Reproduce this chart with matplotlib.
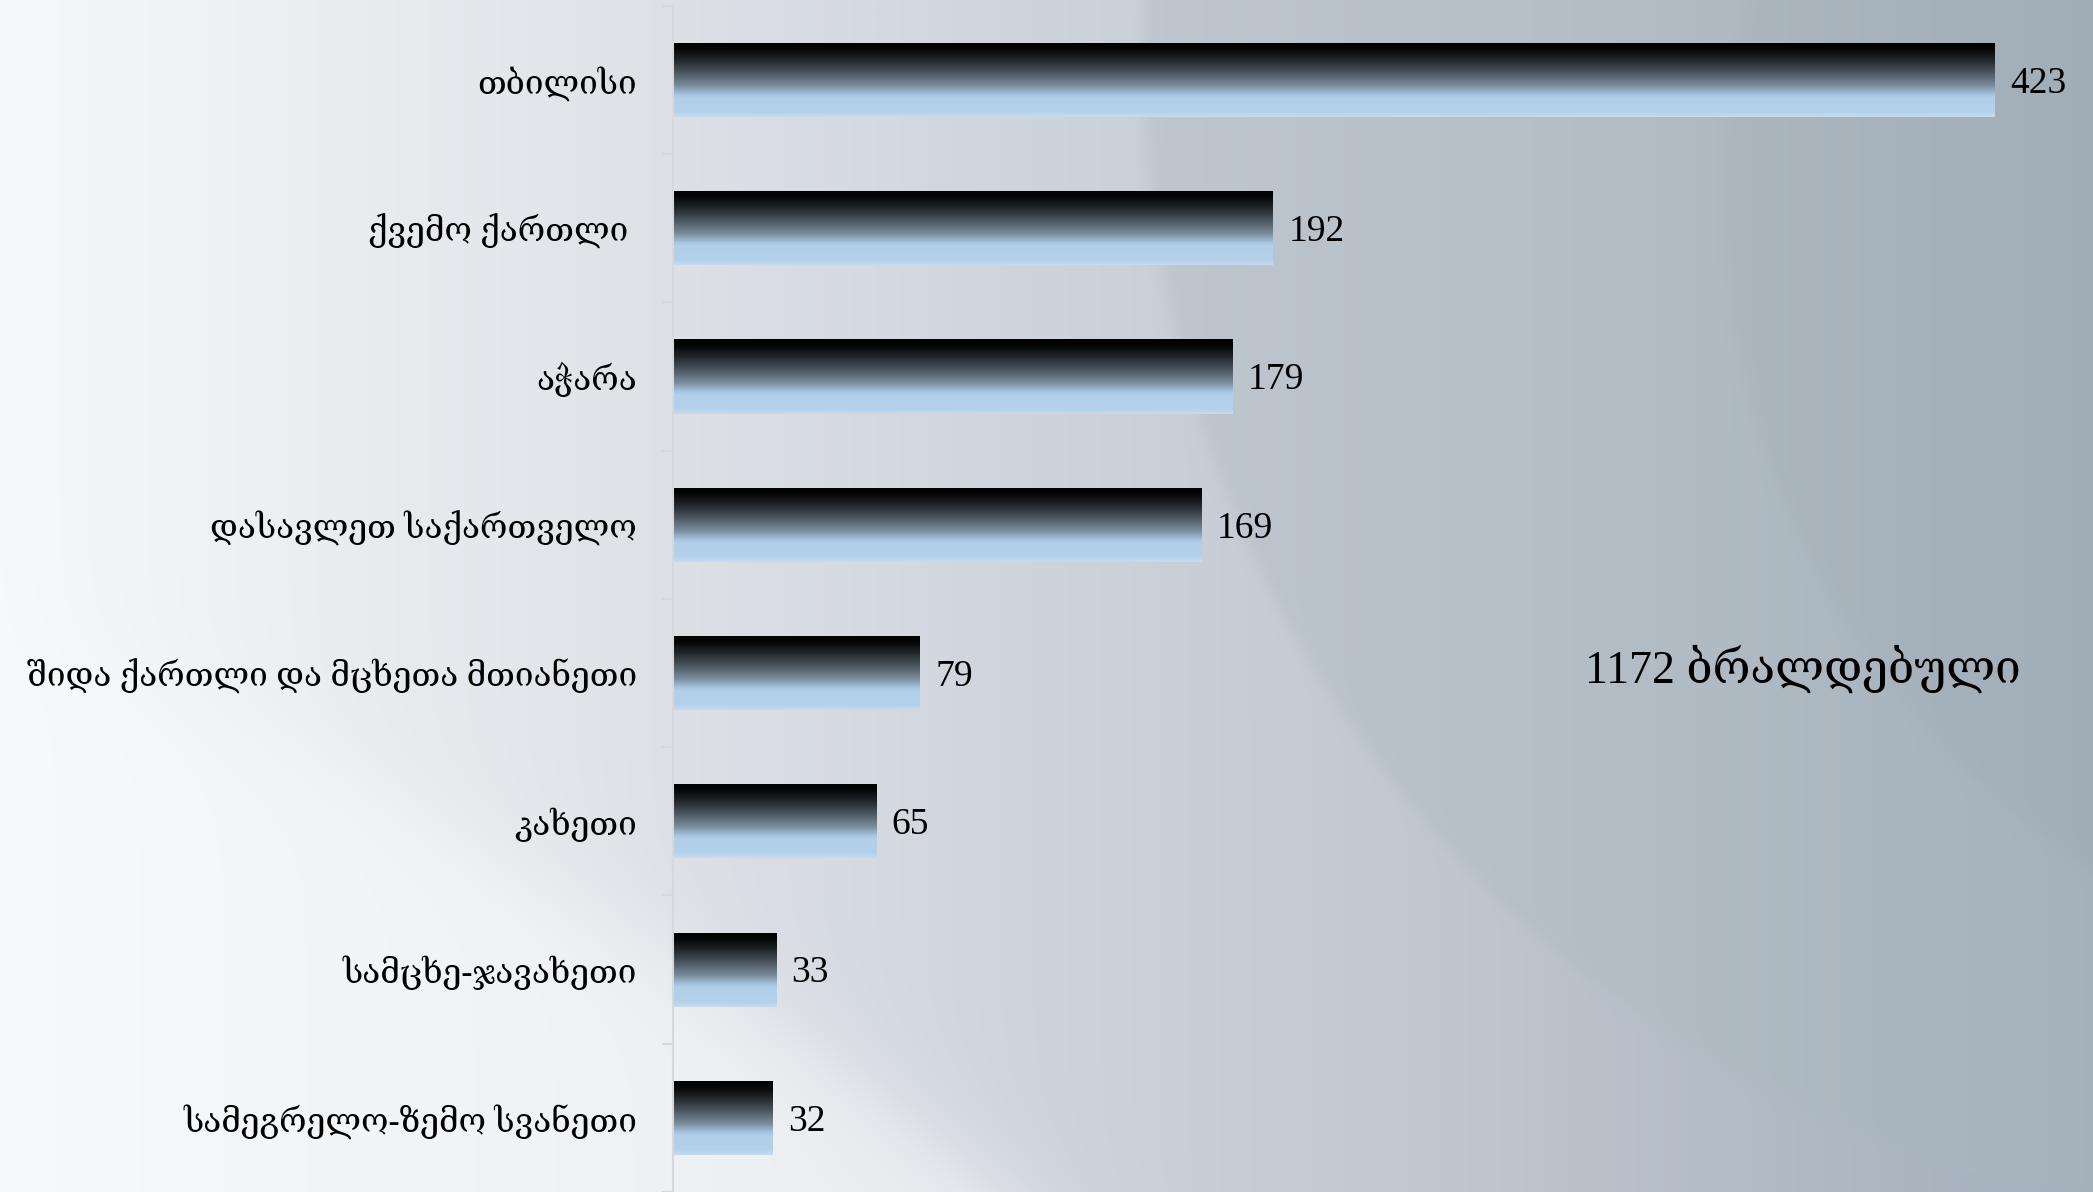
import numpy as np
import matplotlib
matplotlib.use('Agg')
import matplotlib.pyplot as plt
from matplotlib.colors import LinearSegmentedColormap

# ---------------- data ----------------
regions = ["თბილისი", "ქვემო ქართლი ", "აჭარა", "დასავლეთ საქართველო",
           "შიდა ქართლი და მცხეთა მთიანეთი", "კახეთი", "სამცხე-ჯავახეთი",
           "სამეგრელო-ზემო სვანეთი"]
defendants = [423, 192, 179, 169, 79, 65, 33, 32]
total_label = "1172 ბრალდებული"

# ---------------- figure ----------------
W, H = 2093, 1192
DPI = 100
fig = plt.figure(figsize=(W / DPI, H / DPI), dpi=DPI)

# background (decorative gradient with soft arcs)
yy, xx = np.mgrid[0:H, 0:W].astype(float)
stops_x = [0, 500, 1000, 1500, 2093]
stops_c = np.array([[247, 248, 249], [228, 231, 235], [208, 213, 221],
                    [189, 197, 206], [163, 175, 187]]) / 255
bg = np.stack([np.interp(xx, stops_x, stops_c[:, k]) for k in range(3)], axis=-1)


def soft(d, width):
    return 1 / (1 + np.exp(d / width))


# light swoosh lower-left
d1 = np.sqrt((xx + 1176) ** 2 + (yy - 3857) ** 2) - 3437
w1 = soft(d1, 25)[..., None] * 0.65
bg = bg * (1 - w1) + np.array([248, 249, 250]) / 255 * w1
# big soft arc
d2 = np.sqrt((xx - 2301) ** 2 + (yy - 62) ** 2) - 1159
w2 = soft(d2, 4)[..., None] * 0.35
bg = bg * (1 - w2) + np.array([168, 182, 188]) / 255 * w2
# faint arc at the right
d3 = np.sqrt((xx - 2531) ** 2 + (yy - 190) ** 2) - 810
w3 = soft(d3, 4)[..., None]
bg = bg * (1 - 0.02 * w3)

bax = fig.add_axes([0, 0, 1, 1], zorder=-5)
bax.imshow(np.clip(bg, 0, 1), aspect='auto', interpolation='bilinear')
bax.axis('off')

# main axes
left = 673 / W
top = 1 - 5.8 / H
ax = fig.add_axes([left, 0, 1 - left, top])
ax.patch.set_alpha(0)

y_pos = np.arange(len(regions))
bars = ax.barh(y_pos, defendants, height=0.5, color='none', edgecolor='none')

cmap = LinearSegmentedColormap.from_list('bar', [
    (0.00, '#000000'), (0.09, '#040608'), (0.22, '#1d2226'), (0.40, '#4a545d'),
    (0.58, '#7a8c9b'), (0.70, '#a5c4df'), (0.74, '#b1cfe9'), (0.93, '#b3d1ea'),
    (1.00, '#c6dbef')])
grad = np.linspace(0, 1, 256).reshape(-1, 1)
for b in bars:
    x0, y0, w, h = b.get_x(), b.get_y(), b.get_width(), b.get_height()
    im = ax.imshow(grad, cmap=cmap, aspect='auto', origin='upper',
                   extent=[x0, x0 + w, y0 + h, y0], interpolation='bilinear', zorder=2)
    im.set_clip_path(b)

serif = ['Liberation Serif', 'DejaVu Serif', 'DejaVu Sans']
for b, v in zip(bars, defendants):
    ax.annotate(str(v), xy=(b.get_width(), b.get_y() + b.get_height() / 2),
                xytext=(11, -9.2), textcoords='offset points',
                ha='left', va='baseline', fontsize=27, family=serif, color='black')

ax.set_xlim(0, (W - 673) / 3.125)
ax.set_ylim(len(regions) - 0.5, -0.5)

ax.set_yticks(y_pos)
ax.set_yticklabels(regions, family=serif, fontsize=24, color='black')
ax.tick_params(axis='y', which='major', length=0, pad=26)
ax.set_yticks(np.arange(-0.5, len(regions), 1), minor=True)
ax.tick_params(axis='y', which='minor', length=8, width=1.5, color='#d6d8db')
ax.set_xticks([])
for s in ['top', 'right', 'bottom']:
    ax.spines[s].set_visible(False)
ax.spines['left'].set_color('#d6d8db')
ax.spines['left'].set_linewidth(1.5)

fig.text(1803 / W, 1 - 683 / H, total_label, ha='center', va='baseline',
         fontsize=33, family=serif, color='black')

fig.savefig('out.png', dpi=DPI)
